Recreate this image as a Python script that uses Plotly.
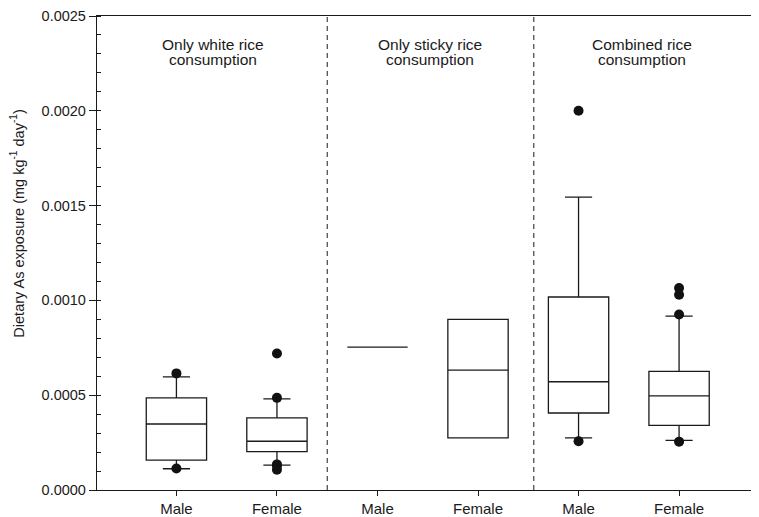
import plotly.graph_objects as go

# ---- data ----
positions = [0, 1, 2, 3, 4, 5]
tick_labels = ["Male", "Female", "Male", "Female", "Male", "Female"]
q1_vals = [0.000158, 0.000202, 0.000754, 0.000275, 0.000406, 0.000341]
median_vals = [0.000348, 0.000257, 0.000754, 0.000632, 0.000571, 0.000496]
q3_vals = [0.000486, 0.000380, 0.000754, 0.000900, 0.001018, 0.000626]
lower_whisker = [0.000112, 0.000131, 0.000754, 0.000275, 0.000275, 0.000262]
upper_whisker = [0.000597, 0.000481, 0.000754, 0.000900, 0.001545, 0.000917]
outlier_x = [0, 0, 1, 1, 1, 1, 1, 4, 4, 5, 5, 5, 5]
outlier_y = [0.000615, 0.000113, 0.000720, 0.000486, 0.000135, 0.000128, 0.000107,
             0.0020, 0.000257, 0.001065, 0.001030, 0.000926, 0.000255]
group_titles = [("Only white rice", "consumption"),
                ("Only sticky rice", "consumption"),
                ("Combined rice", "consumption")]
group_title_x = [0.36, 2.52, 4.635]
divider_x = [1.5, 3.555]
y_ticks = [0.0, 0.0005, 0.0010, 0.0015, 0.0020, 0.0025]

FONT = "Liberation Sans, Arial, sans-serif"
INK = "#1a1a1a"

fig = go.Figure()
for i, p in enumerate(positions):
    fig.add_trace(go.Box(
        x=[p], q1=[q1_vals[i]], median=[median_vals[i]], q3=[q3_vals[i]],
        lowerfence=[lower_whisker[i]], upperfence=[upper_whisker[i]],
        width=0.6, whiskerwidth=0.45, boxpoints=False,
        line=dict(color=INK, width=1.3), fillcolor="rgba(0,0,0,0)",
        showlegend=False, hoverinfo="skip"))

fig.add_trace(go.Scatter(x=outlier_x, y=outlier_y, mode="markers",
                         marker=dict(color="#111111", size=10),
                         showlegend=False, hoverinfo="skip"))
# dummy trace for the right-hand tick axis
fig.add_trace(go.Scatter(x=[0], y=[0], yaxis="y2", mode="markers",
                         marker=dict(size=1, opacity=0), showlegend=False, hoverinfo="skip"))

shapes = []
for dx in divider_x:
    shapes.append(dict(type="line", xref="x", yref="paper", x0=dx, x1=dx, y0=0, y1=1,
                       line=dict(color=INK, width=1, dash="5px,4px")))

annotations = []
for (l1, l2), gx in zip(group_titles, group_title_x):
    annotations.append(dict(x=gx, xref="x", y=0.9398, yref="paper", text=l1,
                            showarrow=False, xanchor="center", yanchor="middle",
                            font=dict(family=FONT, size=15.5, color=INK)))
    annotations.append(dict(x=gx, xref="x", y=0.9076, yref="paper", text=l2,
                            showarrow=False, xanchor="center", yanchor="middle",
                            font=dict(family=FONT, size=15.5, color=INK)))
annotations.append(dict(x=-0.12, xref="paper", y=0.561, yref="paper",
                        text="Dietary As exposure (mg kg<sup>-1</sup> day<sup>-1</sup>)",
                        textangle=-90, showarrow=False, xanchor="center", yanchor="middle",
                        font=dict(family=FONT, size=14.5, color=INK)))

fig.update_layout(
    width=751, height=509,
    margin=dict(l=89, r=0, t=6, b=24),
    paper_bgcolor="white", plot_bgcolor="white",
    font=dict(family=FONT, color=INK),
    shapes=shapes, annotations=annotations,
    xaxis=dict(range=[-0.79, 5.795], tickvals=positions, ticktext=tick_labels,
               showgrid=False, zeroline=False, showline=True, linecolor=INK, linewidth=1.3,
               mirror=True, ticks="outside", ticklen=5, tickcolor=INK,
               tickfont=dict(family=FONT, size=15, color=INK)),
    yaxis=dict(range=[0, 0.0025], tickvals=y_ticks, tickformat=".4f",
               ticklabeloverflow="allow",
               showgrid=False, zeroline=False, showline=True, linecolor=INK, linewidth=1.3,
               ticks="outside", ticklen=7, tickcolor=INK,
               tickfont=dict(family=FONT, size=14.5, color=INK),
               minor=dict(dtick=0.0001, ticks="inside", ticklen=4, tickcolor=INK, showgrid=False)),
    yaxis2=dict(range=[0, 0.0025], overlaying="y", side="right", tickvals=y_ticks,
                showticklabels=False, showgrid=False, zeroline=False, showline=False,
                ticks="", minor=dict(dtick=0.0001, ticks="inside", ticklen=4,
                                     tickcolor=INK, showgrid=False)),
)

fig.write_html("out.html")
